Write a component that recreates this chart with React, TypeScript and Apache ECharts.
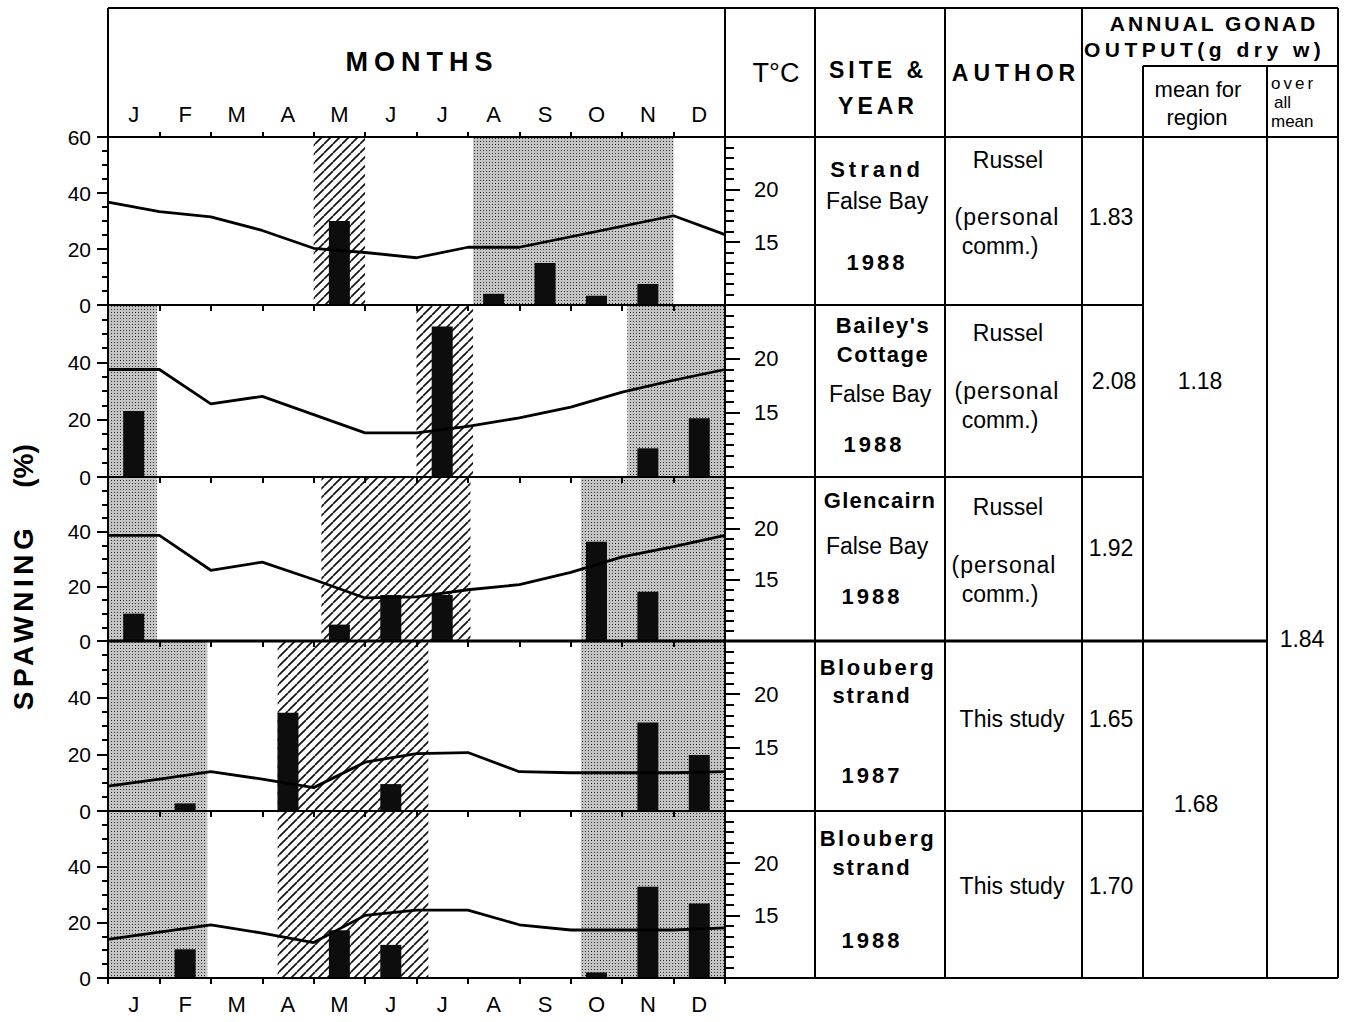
import React, { useEffect, useRef } from "react";
import * as echarts from "echarts";

const FONT = '"Liberation Sans", Arial, Helvetica, sans-serif';

// ---------- data ----------
const months = ["J", "F", "M", "A", "M", "J", "J", "A", "S", "O", "N", "D"];
const monthBoundaries = [0, 1, 2, 3, 4, 5, 6, 7, 8, 9, 10, 11, 12];
const spawningLabelsTop = [0, 20, 40, 60];
const spawningLabelsLower = [0, 20, 40];
const temperatureTicks = [10, 11, 12, 13, 14, 15, 16, 17, 18, 19, 20, 21, 22, 23, 24];
const temperatureLabels = [15, 20];

// spawning (%) per month
const spawnStrand1988 = [null, null, null, null, 30, null, null, 4, 15, 3.3, 7.5, null];
const spawnBaileys1988 = [23, null, null, null, null, null, 52.5, null, null, null, 10, 20.5];
const spawnGlencairn1988 = [10, null, null, null, 6, 16.8, 16.8, null, null, 36.3, 18, null];
const spawnBlouberg1987 = [null, 2.7, null, 34.7, null, 9.5, null, null, null, null, 31.2, 19.8];
const spawnBlouberg1988 = [null, 10.3, null, null, 17.2, 11.9, null, null, null, 2, 32.8, 26.8];

// sea temperature (°C) read at the month boundaries
const tempStrand1988 = [18.8, 17.9, 17.4, 16.1, 14.4, 14.0, 13.5, 14.5, 14.5, 15.5, 16.5, 17.5, 15.7];
const tempBaileys1988 = [19.0, 19.0, 15.8, 16.5, 14.8, 13.1, 13.1, 13.7, 14.5, 15.5, 16.9, 18.0, 19.0];
const tempGlencairn1988 = [19.3, 19.3, 15.9, 16.7, 15.0, 13.2, 13.3, 14.0, 14.5, 15.7, 17.2, 18.2, 19.3];
const tempBlouberg1987 = [11.35, 12.0, 12.7, 12.0, 11.2, 13.6, 14.4, 14.5, 12.7, 12.6, 12.6, 12.6, 12.7];
const tempBlouberg1988 = [12.7, 13.4, 14.1, 13.3, 12.4, 15.0, 15.5, 15.5, 14.1, 13.6, 13.6, 13.6, 13.8];

// shaded seasons: [from month, to month, kind] kind 0 = stippled, 1 = hatched
const seasonsStrand1988 = [[4, 5, 1], [7.1, 11, 0]];
const seasonsBaileys1988 = [[0, 0.95, 0], [6, 7.1, 1], [10.1, 12, 0]];
const seasonsGlencairn1988 = [[0, 0.95, 0], [4.15, 7.05, 1], [9.2, 12, 0]];
const seasonsBlouberg1987 = [[0, 1.93, 0], [3.3, 6.23, 1], [9.2, 12, 0]];
const seasonsBlouberg1988 = [[0, 1.93, 0], [3.3, 6.23, 1], [9.2, 12, 0]];

// table values
const gonadOutput = ["1.83", "2.08", "1.92", "1.65", "1.70"];
const regionMeans = ["1.18", "1.68"];
const overallMean = "1.84";

const panels = [
  { spawn: spawnStrand1988, temp: tempStrand1988, seasons: seasonsStrand1988 },
  { spawn: spawnBaileys1988, temp: tempBaileys1988, seasons: seasonsBaileys1988 },
  { spawn: spawnGlencairn1988, temp: tempGlencairn1988, seasons: seasonsGlencairn1988 },
  { spawn: spawnBlouberg1987, temp: tempBlouberg1987, seasons: seasonsBlouberg1987 },
  { spawn: spawnBlouberg1988, temp: tempBlouberg1988, seasons: seasonsBlouberg1988 },
];

// ---------- layout ----------
const GRID_LEFT = 108;
const GRID_WIDTH = 617;
const panelTops = [137, 305, 477, 641, 811];
const panelHeights = [168, 172, 164, 170, 167];

const letterSpacing: Record<string, number> = {
  MONTHS: 6,
  "SITE &": 4,
  YEAR: 4,
  AUTHOR: 5,
  "ANNUAL GONAD": 3,
  "OUTPUT(g dry w)": 4.5,
  Strand: 4,
  "1988": 3,
  "1987": 3,
  "Bailey's": 1.5,
  Cottage: 1.5,
  Glencairn: 1.2,
  Blouberg: 2.5,
  strand: 2,
  SPAWNING: 4.5,
  "(personal": 1,
  over: 3,
};

function makeStipple(): string {
  const c = document.createElement("canvas");
  c.width = 3;
  c.height = 3;
  const ctx = c.getContext("2d")!;
  ctx.fillStyle = "#c4c4c4";
  ctx.fillRect(0, 0, 3, 3);
  ctx.fillStyle = "#303030";
  ctx.fillRect(0, 0, 1, 1);
  return c.toDataURL();
}

function makeHatch(): string {
  const s = 9;
  const c = document.createElement("canvas");
  c.width = s;
  c.height = s;
  const ctx = c.getContext("2d")!;
  ctx.fillStyle = "#ffffff";
  ctx.fillRect(0, 0, s, s);
  ctx.strokeStyle = "#111111";
  ctx.lineWidth = 1.7;
  for (const k of [-s, 0, s]) {
    ctx.beginPath();
    ctx.moveTo(k, s);
    ctx.lineTo(k + s, 0);
    ctx.stroke();
  }
  return c.toDataURL();
}

function line(x1: number, y1: number, x2: number, y2: number, w = 2) {
  return {
    type: "line",
    z: 100,
    silent: true,
    shape: { x1, y1, x2, y2 },
    style: { stroke: "#000", lineWidth: w },
  };
}

function txt(
  text: string,
  x: number,
  y: number,
  size: number,
  bold = false,
  align = "center"
) {
  return {
    type: "text",
    z: 100,
    silent: true,
    x,
    y,
    style: {
      text,
      fill: "#000",
      fontSize: size,
      fontWeight: bold ? "bold" : "normal",
      fontFamily: FONT,
      align,
      verticalAlign: "middle",
    },
  };
}

export default function App() {
  const ref = useRef<HTMLDivElement>(null);

  useEffect(() => {
    const el = ref.current!;
    const chart = echarts.init(el, null, { renderer: "svg" });

    const stipple = {
      image: makeStipple(),
      repeat: "repeat",
      imageWidth: 3,
      imageHeight: 3,
    };
    const hatch = {
      image: makeHatch(),
      repeat: "repeat",
      imageWidth: 9,
      imageHeight: 9,
    };

    const black = { color: "#000", width: 2 };
    const grid: any[] = [];
    const xAxis: any[] = [];
    const yAxis: any[] = [];
    const series: any[] = [];

    panels.forEach((p, i) => {
      grid.push({
        left: GRID_LEFT,
        top: panelTops[i],
        width: GRID_WIDTH,
        height: panelHeights[i],
        outerBoundsMode: "none",
        containLabel: false,
      });
      const isLast = i === panels.length - 1;
      xAxis.push({
        type: "category",
        gridIndex: i,
        data: months,
        position: "bottom",
        boundaryGap: true,
        z: 10,
        axisLine: { show: true, onZero: false, lineStyle: black },
        axisTick: { show: true, inside: false, length: 6, interval: 0, lineStyle: black },
        axisLabel: {
          show: isLast,
          interval: 0,
          margin: 15,
          color: "#000",
          fontSize: 22,
          fontFamily: FONT,
        },
        splitLine: { show: false },
      });
      xAxis.push({
        type: "value",
        gridIndex: i,
        position: "top",
        min: 0,
        max: 12,
        show: false,
        axisLine: { onZero: false },
      });
      yAxis.push({
        type: "value",
        gridIndex: i,
        position: "left",
        min: 0,
        max: 60,
        interval: 20,
        z: 10,
        axisLine: { show: true, onZero: false, lineStyle: black },
        axisTick: { show: true, inside: false, length: 11, lineStyle: black },
        minorTick: { show: true, splitNumber: 4, length: 6, lineStyle: black },
        axisLabel: {
          show: true,
          customValues: i === 0 ? spawningLabelsTop : spawningLabelsLower,
          margin: 17,
          color: "#000",
          fontSize: 21,
          fontFamily: FONT,
        },
        splitLine: { show: false },
        minorSplitLine: { show: false },
      });
      yAxis.push({
        type: "value",
        gridIndex: i,
        position: "right",
        min: 9,
        max: 25,
        z: 10,
        axisLine: { show: true, onZero: false, lineStyle: black },
        axisTick: {
          show: true,
          inside: false,
          customValues: temperatureTicks,
          length: 9,
          lineStyle: black,
        },
        axisLabel: {
          show: true,
          customValues: temperatureLabels,
          margin: 29,
          color: "#000",
          fontSize: 22,
          fontFamily: FONT,
        },
        splitLine: { show: false },
      });
      yAxis.push({
        type: "value",
        gridIndex: i,
        position: "right",
        min: 9,
        max: 25,
        z: 10,
        axisLine: { show: false, onZero: false },
        axisTick: {
          show: true,
          inside: false,
          customValues: temperatureLabels,
          length: 15,
          lineStyle: black,
        },
        axisLabel: { show: false },
        splitLine: { show: false },
      });

      series.push({
        type: "custom",
        xAxisIndex: 2 * i + 1,
        yAxisIndex: 3 * i,
        z: 1,
        silent: true,
        encode: { x: [0, 1] },
        data: p.seasons,
        renderItem: (params: any, api: any) => {
          const a = api.coord([api.value(0), 60]);
          const b = api.coord([api.value(1), 0]);
          const hatched = api.value(2) === 1;
          return {
            type: "rect",
            shape: { x: a[0], y: a[1], width: b[0] - a[0], height: b[1] - a[1] },
            style: { fill: hatched ? hatch : stipple },
          };
        },
      });
      series.push({
        type: "bar",
        xAxisIndex: 2 * i,
        yAxisIndex: 3 * i,
        z: 3,
        silent: true,
        barWidth: 21,
        itemStyle: { color: "#0d0d0d" },
        data: p.spawn,
      });
      series.push({
        type: "line",
        xAxisIndex: 2 * i + 1,
        yAxisIndex: 3 * i + 1,
        z: 4,
        silent: true,
        symbol: "none",
        lineStyle: { color: "#000", width: 2.8 },
        data: p.temp.map((t, k) => [monthBoundaries[k], t]),
      });
    });

    // top month axis of the first panel
    xAxis.push({
      type: "category",
      gridIndex: 0,
      data: months,
      position: "top",
      boundaryGap: true,
      z: 10,
      axisLine: { show: true, onZero: false, lineStyle: black },
      axisTick: { show: true, inside: false, length: 5, interval: 0, lineStyle: black },
      axisLabel: {
        show: true,
        interval: 0,
        margin: 12,
        color: "#000",
        fontSize: 22,
        fontFamily: FONT,
      },
      splitLine: { show: false },
    });

    const graphics: any[] = [
      // frame lines
      line(108, 8, 1338, 8),
      line(108, 8, 108, 137),
      line(108, 137, 1338, 137),
      line(725, 8, 725, 978),
      line(815, 8, 815, 978),
      line(945, 8, 945, 978),
      line(1082, 8, 1082, 978),
      line(1143, 66, 1143, 978),
      line(1267, 66, 1267, 978),
      line(1338, 8, 1338, 978),
      line(1143, 66, 1338, 66),
      line(725, 305, 1143, 305),
      line(725, 477, 1143, 477),
      line(108, 641, 1267, 641, 3),
      line(725, 811, 1143, 811),
      line(725, 978, 1338, 978),
      // header texts
      txt("MONTHS", 422, 62, 27, true),
      txt("T°C", 776, 73, 27),
      txt("SITE &", 878, 70, 23, true),
      txt("YEAR", 878, 106, 23, true),
      txt("AUTHOR", 1016, 73, 23, true),
      txt("ANNUAL GONAD", 1214, 23, 21, true),
      txt("OUTPUT(g dry w)", 1084, 49, 21, true, "left"),
      txt("mean for", 1198, 89, 22),
      txt("region", 1197, 117, 22),
      txt("over", 1271, 83, 17, false, "left"),
      txt("all", 1274, 102, 17, false, "left"),
      txt("mean", 1271, 121, 17, false, "left"),
      // y axis title
      {
        ...txt("SPAWNING", 23, 617, 28, true),
        rotation: Math.PI / 2,
      },
      {
        ...txt("(%)", 23, 466, 28, true),
        rotation: Math.PI / 2,
      },
      // row 1
      txt("Strand", 877, 169, 22, true),
      txt("False Bay", 877, 201, 23),
      txt("1988", 877, 262, 22, true),
      txt("Russel", 1008, 160, 23),
      txt("(personal", 1007, 217, 23),
      txt("comm.)", 1000, 246, 23),
      txt(gonadOutput[0], 1111, 217, 23),
      // row 2
      txt("Bailey's", 883, 325, 22, true),
      txt("Cottage", 883, 354, 22, true),
      txt("False Bay", 880, 394, 23),
      txt("1988", 874, 444, 22, true),
      txt("Russel", 1008, 333, 23),
      txt("(personal", 1007, 391, 23),
      txt("comm.)", 1000, 420, 23),
      txt(gonadOutput[1], 1114, 381, 23),
      // row 3
      txt("Glencairn", 880, 500, 22, true),
      txt("False Bay", 877, 546, 23),
      txt("1988", 872, 596, 22, true),
      txt("Russel", 1008, 507, 23),
      txt("(personal", 1004, 565, 23),
      txt("comm.)", 1000, 594, 23),
      txt(gonadOutput[2], 1111, 548, 23),
      // row 4
      txt("Blouberg", 878, 667, 22, true),
      txt("strand", 872, 695, 22, true),
      txt("1987", 872, 775, 22, true),
      txt("This study", 1012, 719, 23),
      txt(gonadOutput[3], 1111, 719, 23),
      // row 5
      txt("Blouberg", 878, 838, 22, true),
      txt("strand", 872, 867, 22, true),
      txt("1988", 872, 940, 22, true),
      txt("This study", 1012, 886, 23),
      txt(gonadOutput[4], 1111, 886, 23),
      // means
      txt(regionMeans[0], 1200, 381, 23),
      txt(regionMeans[1], 1196, 804, 23),
      txt(overallMean, 1302, 639, 23),
    ];

    const option: any = {
      animation: false,
      backgroundColor: "#ffffff",
      textStyle: { fontFamily: FONT },
      grid,
      xAxis,
      yAxis,
      series,
      graphic: graphics,
    };

    const applySpacing = () => {
      el.querySelectorAll("text").forEach((t) => {
        const s = letterSpacing[(t.textContent || "").trim()];
        if (s != null) t.setAttribute("letter-spacing", `${s}px`);
      });
    };
    chart.on("rendered", applySpacing);
    chart.setOption(option);
    applySpacing();
    const timer = setTimeout(applySpacing, 50);

    return () => {
      clearTimeout(timer);
      chart.dispose();
    };
  }, []);

  return (
    <div
      ref={ref}
      style={{
        position: "absolute",
        left: 0,
        top: 0,
        width: 1348,
        height: 1022,
        background: "#ffffff",
      }}
    />
  );
}
